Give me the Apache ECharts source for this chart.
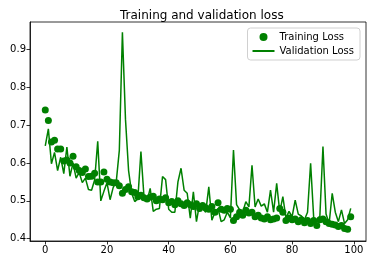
<!DOCTYPE html>
<html>
<head>
<meta charset="utf-8">
<script src="https://cdn.jsdelivr.net/npm/echarts@6/dist/echarts.min.js"></script>
<style>
  html, body { margin: 0; padding: 0; background: #fff; }
  .echarts { width: 372px; height: 264px; }
</style>
</head>
<body>
<div class="echarts"></div>
<script>
// values
const epochs = Array.from({ length: 100 }, (_, i) => i);
const trainingLoss = [
    0.740, 0.712, 0.655, 0.660, 0.637, 0.637, 0.605, 0.608, 0.600, 0.618,
    0.590, 0.580, 0.575, 0.584, 0.564, 0.565, 0.573, 0.550, 0.550, 0.576,
    0.557, 0.550, 0.548, 0.548, 0.540, 0.520, 0.530, 0.537, 0.524, 0.522,
    0.511, 0.515, 0.508, 0.505, 0.510, 0.512, 0.500, 0.505, 0.503, 0.508,
    0.495, 0.498, 0.490, 0.500, 0.492, 0.488, 0.495, 0.490, 0.485, 0.492,
    0.480, 0.488, 0.482, 0.478, 0.485, 0.470, 0.495, 0.478, 0.475, 0.480,
    0.478, 0.448, 0.458, 0.470, 0.462, 0.475, 0.468, 0.470, 0.458, 0.462,
    0.455, 0.452, 0.458, 0.450, 0.452, 0.455, 0.480, 0.470, 0.448, 0.455,
    0.450, 0.452, 0.445, 0.450, 0.442, 0.448, 0.440, 0.448, 0.435, 0.450,
    0.452, 0.445, 0.440, 0.438, 0.436, 0.432, 0.435, 0.427, 0.425, 0.458
];
const validationLoss = [
    0.645, 0.690, 0.598, 0.628, 0.580, 0.615, 0.572, 0.642, 0.565, 0.600,
    0.560, 0.575, 0.548, 0.560, 0.530, 0.528, 0.555, 0.657, 0.500, 0.525,
    0.548, 0.503, 0.535, 0.550, 0.633, 0.945, 0.715, 0.580, 0.520, 0.498,
    0.505, 0.630, 0.510, 0.500, 0.533, 0.472, 0.478, 0.480, 0.564, 0.556,
    0.478, 0.470, 0.470, 0.550, 0.586, 0.528, 0.520, 0.454, 0.524, 0.445,
    0.492, 0.480, 0.470, 0.537, 0.449, 0.470, 0.480, 0.445, 0.450, 0.470,
    0.455, 0.634, 0.490, 0.476, 0.470, 0.498, 0.484, 0.594, 0.484, 0.505,
    0.486, 0.492, 0.470, 0.528, 0.470, 0.546, 0.470, 0.511, 0.455, 0.472,
    0.458, 0.502, 0.465, 0.460, 0.450, 0.470, 0.599, 0.455, 0.445, 0.460,
    0.643, 0.465, 0.440, 0.520, 0.470, 0.445, 0.476, 0.440, 0.450, 0.480
];
const xTicks = [0, 20, 40, 60, 80, 100];
const yTicks = [0.4, 0.5, 0.6, 0.7, 0.8, 0.9];

window.addEventListener('load', function () {
    let myChart = echarts.init(document.querySelector('.echarts'), null, { renderer: 'canvas' });
    const font = 'DejaVu Sans';

    myChartOption = {
        animation: false,
        textStyle: { fontFamily: font },
        title: {
            text: 'Training and validation loss',
            left: 115,
            top: 5,
            textStyle: { color: '#000', fontSize: 12, fontWeight: 'normal', fontFamily: font }
        },
        legend: {
            orient: 'vertical',
            right: 12,
            top: 28,
            padding: [4, 6, 4, 4],
            itemWidth: 22,
            itemHeight: 8,
            itemGap: 4,
            borderColor: '#d0d0d0',
            borderWidth: 1,
            borderRadius: 3,
            backgroundColor: '#fff',
            textStyle: { color: '#000', fontSize: 10, fontFamily: font },
            data: [
                { name: 'Training Loss', icon: 'circle' },
                // plain line in the legend, hide the marker drawn on it
                { name: 'Validation Loss', itemStyle: { opacity: 0 } }
            ]
        },
        grid: {
            left: 30,
            right: 6,
            top: 22,
            bottom: 23,
            show: true,
            borderColor: '#000',
            borderWidth: 0.8,
            containLabel: false
        },
        xAxis: {
            type: 'value',
            min: -4.95,
            max: 103.95,
            splitLine: { show: false },
            axisLine: { show: true, onZero: false, lineStyle: { color: '#000', width: 0.8 } },
            axisTick: { show: true, inside: false, length: 3.5, customValues: xTicks, lineStyle: { color: '#000', width: 0.8 } },
            axisLabel: { customValues: xTicks, color: '#000', fontSize: 10, margin: 4, fontFamily: font }
        },
        yAxis: {
            type: 'value',
            min: 0.394,
            max: 0.972,
            splitLine: { show: false },
            axisLine: { show: true, onZero: false, lineStyle: { color: '#000', width: 0.8 } },
            axisTick: { show: true, inside: false, length: 3.5, customValues: yTicks, lineStyle: { color: '#000', width: 0.8 } },
            axisLabel: {
                customValues: yTicks, color: '#000', fontSize: 10, margin: 4, fontFamily: font,
                formatter: function (v) { return v.toFixed(1); }
            }
        },
        series: [
            {
                name: 'Training Loss',
                type: 'scatter',
                symbol: 'circle',
                symbolSize: 7,
                itemStyle: { color: '#008000', opacity: 1 },
                data: epochs.map((e, i) => [e, trainingLoss[i]]),
                z: 2
            },
            {
                name: 'Validation Loss',
                type: 'line',
                showSymbol: false,
                symbol: 'none',
                lineStyle: { color: '#008000', width: 1.5 },
                itemStyle: { color: '#008000' },
                data: epochs.map((e, i) => [e, validationLoss[i]]),
                z: 3
            }
        ]
    };
    myChart.setOption(myChartOption);
});
</script>
</body>
</html>
